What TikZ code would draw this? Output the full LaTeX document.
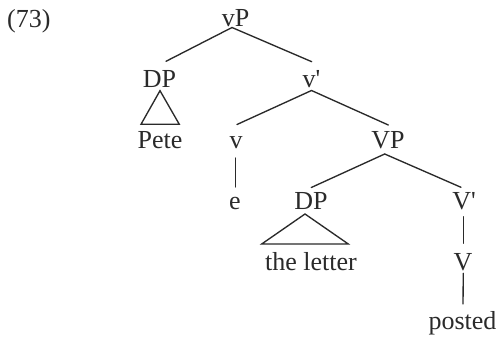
\documentclass[tikz,border=0pt]{standalone}
\usepackage{fontspec}
\setmainfont{Liberation Serif}
\usetikzlibrary{calc}
\definecolor{ink}{HTML}{2A2A2A}
\tikzset{
  lbl/.style={anchor=base, inner sep=0pt, text=ink, font=\fontsize{26}{30}\selectfont},
  branch/.style={draw=ink, line width=1.35pt, line cap=round, line join=miter}
}
\begin{document}
\begin{tikzpicture}[x=1pt,y=-1pt]
\useasboundingbox (0,0) rectangle (499,339);
% labels
\node[lbl, anchor=base west] (num) at (7,28) {(73)};
\node[lbl] (vP) at (235.5,27) {vP};
\node[lbl] (DPa) at (159.5,88) {DP};
\node[lbl] (vbar) at (311.5,88) {v\textquotesingle};
\node[lbl] (Pete) at (160,149) {Pete};
\node[lbl] (v) at (236,149) {v};
\node[lbl] (VP) at (388,149) {VP};
\node[lbl] (e) at (235,210) {e};
\node[lbl] (DPb) at (311,210) {DP};
\node[lbl] (Vbar) at (464,210) {V\textquotesingle};
\node[lbl] (letter) at (311,271) {the letter};
\node[lbl] (V) at (463,271) {V};
\node[lbl] (posted) at (462.5,330) {posted};
% branches
\draw[branch] ($(vP.base)+(-3.5,0.5)$) -- ($(DPa.base)+(6.5,-26.7)$);
\draw[branch] ($(vP.base)+(-3.5,0.5)$) -- ($(vbar.base)+(0.2,-26.3)$);
\draw[branch] ($(vbar.base)+(0,2.5)$) -- ($(v.base)+(1,-24.5)$);
\draw[branch] ($(vbar.base)+(0,2.5)$) -- ($(VP.base)+(0.3,-24)$);
\draw[branch] ($(v.base)+(-0.5,9)$) -- ($(e.base)+(0.5,-23)$);
\draw[branch] ($(VP.base)+(-3.3,5)$) -- ($(DPb.base)+(0.3,-22.5)$);
\draw[branch] ($(VP.base)+(-3.3,5)$) -- ($(Vbar.base)+(-3,-22.7)$);
\draw[branch] ($(Vbar.base)+(-0.7,6.7)$) -- ($(V.base)+(0.3,-27.7)$);
\draw[branch] ($(V.base)+(0.3,2.3)$) -- ($(posted.base)+(0.5,-26)$);
% triangles
\draw[branch] ($(DPa.base)+(0.5,2.7)$) -- ($(DPa.base)+(-18.5,36.3)$) -- ($(DPa.base)+(19.8,36.3)$) -- cycle;
\draw[branch] ($(DPb.base)+(-6,4)$) -- ($(DPb.base)+(-49.3,34)$) -- ($(DPb.base)+(37.3,34)$) -- cycle;
\end{tikzpicture}
\end{document}
